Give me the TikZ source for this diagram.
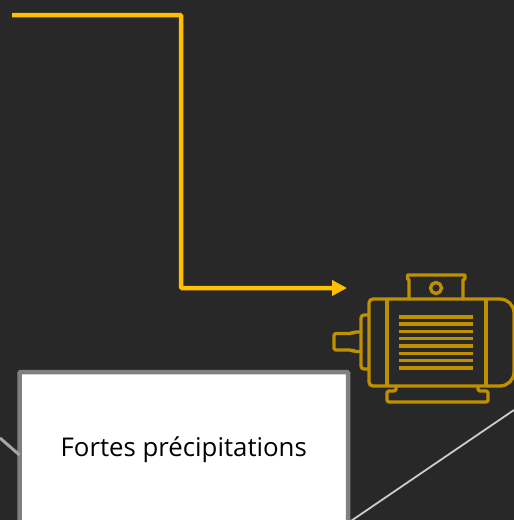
\documentclass[tikz,border=0pt]{standalone}
\usepackage{fontspec}
\setmainfont{Open Sans}
\usetikzlibrary{arrows.meta}
\definecolor{slate}{HTML}{282828}
\definecolor{amber}{HTML}{FFC000}
\definecolor{ochre}{HTML}{BF9000}
\definecolor{frame}{HTML}{808080}
\begin{document}
\begin{tikzpicture}[x=1pt,y=1pt,
	wire/.style={amber,line width=4.5pt,rounded corners=1pt},
	motor/.style={ochre,line width=3.3pt,line join=round},
	fin/.style={ochre,line width=3.3pt},
	notebox/.style={draw=frame,fill=white,line width=4.5pt,rounded corners=1pt,outer sep=0pt,inner sep=0pt,minimum width=328.5pt,minimum height=151pt,text height=25.5pt,text depth=7pt,font=\fontsize{25.8}{30}\selectfont,text=black}]
	\fill [slate] (0,-520) rectangle (514,0);
	\useasboundingbox (0,-520) rectangle (514,0);
	\clip (0,-520) rectangle (514,0);
	\coordinate (wirestart) at (12,-15);
	\coordinate (wirebend) at (181,-15);
	\coordinate (wirelow) at (181,-288);
	\coordinate (wireend) at (347,-288);
	\coordinate (leftstub) at (0,-438);
	\coordinate (rightstub) at (514,-410);
	\node [notebox] (rain) at (183.75,-447.5) {Fortes précipitations};
	\draw [gray!70,line width=3pt] (leftstub) -- ([yshift=-7.5pt]rain.west);
	\draw [white!80!black,line width=1.8pt] (rightstub) -- (rain.south east);
	\draw [wire,-{Triangle[length=15pt,width=15pt]}] (wirestart) -- (wirebend) -- (wirelow) -- (wireend);
	\draw [motor] (373,-299) -- (500,-299) arc (90:0:14) -- (514,-372) arc (0:-90:14) -- (373,-386) arc (270:180:4) -- (369,-303) arc (180:90:4) -- cycle;
	\draw [motor] (387,-299) -- (387,-386);
	\draw [motor] (486,-299) -- (486,-386);
	\draw [fin] (399,-317) -- (473,-317);
	\draw [fin] (399,-324) -- (473,-324);
	\draw [fin] (399,-331.3) -- (473,-331.3);
	\draw [fin] (399,-338.7) -- (473,-338.7);
	\draw [fin] (399,-346) -- (473,-346);
	\draw [fin] (399,-353.3) -- (473,-353.3);
	\draw [fin] (399,-360.7) -- (473,-360.7);
	\draw [fin] (399,-368) -- (473,-368);
	\draw [motor] (409,-299) -- (409,-280) -- (407.5,-278.5) -- (407.5,-275) -- (465,-275) -- (465,-278.5) -- (463,-280) -- (463,-299);
	\draw [motor] (436,-288) circle (5.5);
	\draw [motor,rounded corners=3pt] (369,-315) -- (361,-315) -- (361,-369) -- (369,-369);
	\draw [motor,rounded corners=2pt] (361,-332) -- (354,-332) -- (352,-333.5) -- (334,-333.5) -- (334,-350) -- (352,-350) -- (354,-351.5) -- (361,-351.5);
	\draw [motor,rounded corners=2pt] (396,-386) -- (396,-391) -- (387,-391) -- (387,-402) -- (488,-402) -- (488,-391) -- (478,-391) -- (478,-386);
\end{tikzpicture}
\end{document}
